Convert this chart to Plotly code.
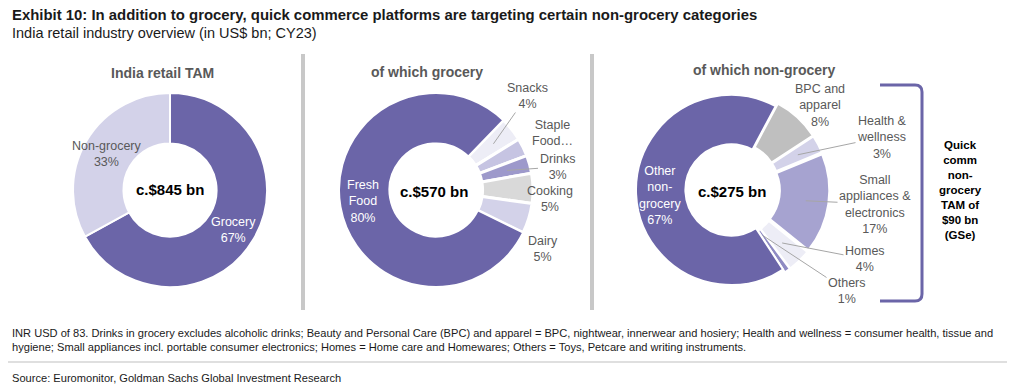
import math
import plotly.graph_objects as go

# page body has an 8px default margin -> lay everything out in page pixels and offset
OX, OY = 8, 8
W, H = 1007, 384

# ---------------- data ----------------
tam_labels = ["Grocery", "Non-grocery"]
tam_values = [67, 33]
tam_total = "c.$845 bn"

groc_labels = ["Snacks", "Staple Food", "Drinks", "Cooking", "Dairy", "Fresh Food"]
groc_values = [4, 3, 3, 5, 5, 80]
groc_total = "c.$570 bn"

nong_labels = ["BPC and apparel", "Health & wellness", "Small appliances & electronics",
               "Homes", "Others", "Other non-grocery"]
nong_values = [8, 3, 17, 4, 1, 67]
nong_total = "c.$275 bn"

# display text of the labels (line-wrapped as in the exhibit)
tam_display = ["Grocery", "Non-grocery"]
groc_display = ["Snacks", "Staple<br>Food…", "Drinks", "Cooking", "Dairy", "Fresh<br>Food"]
groc_show_pct = [True, False, True, True, True, True]
nong_display = ["BPC and<br>apparel", "Health &<br>wellness", "Small<br>appliances &<br>electronics",
                "Homes", "Others", "Other<br>non-<br>grocery"]

# ---------------- styles ----------------
PURPLE = "#6B65A8"
GRAY_TXT = "#595959"
tam_colors = [PURPLE, "#D3D2E9"]
groc_colors = ["#EDEDF6", "#C6C4E2", "#9D99CB", "#D9D9D9", "#D3D2E9", PURPLE]
nong_colors = ["#BFBFBF", "#D3D2E9", "#A6A3D0", "#EDEDF6", "#8F8BC3", PURPLE]

LABEL_FONT = "Liberation Sans, Arial, sans-serif"
NARROW_FONT = "Liberation Sans Narrow, Arial Narrow, Liberation Sans, Arial, sans-serif"

# pie geometry (page pixels)
P1 = dict(cx=170, cy=190, r=97, rot=0, pull=0.0)
P2 = dict(cx=436, cy=190, r=97, rot=44, pull=0.0)
P3 = dict(cx=731, cy=190, r=95, rot=28, pull=0.035)
HOLE = 0.48


def px(x):
    return (x - OX) / W


def py(y):
    return 1 - (y - OY) / H


def domain(p):
    R = p["r"] * (1 + p["pull"])
    return dict(x=[px(p["cx"] - R), px(p["cx"] + R)],
                y=[py(p["cy"] + R), py(p["cy"] - R)])


def mid_angles(values, rot):
    tot = sum(values)
    acc = rot
    out = []
    for v in values:
        a = v / tot * 360
        out.append(acc + a / 2)
        acc += a
    return out


def point_on(p, ang, frac, pulled):
    rr = p["r"] * frac + (p["r"] * p["pull"] if pulled else 0)
    t = math.radians(ang)
    return p["cx"] + rr * math.sin(t), p["cy"] - rr * math.cos(t)


fig = go.Figure()

fig.add_trace(go.Pie(
    labels=tam_labels, values=tam_values, hole=HOLE, sort=False,
    direction="clockwise", rotation=P1["rot"], domain=domain(P1),
    marker=dict(colors=tam_colors, line=dict(color="white", width=2)),
    textinfo="none", hoverinfo="label+percent", showlegend=False))

fig.add_trace(go.Pie(
    labels=groc_labels, values=groc_values, hole=HOLE, sort=False,
    direction="clockwise", rotation=P2["rot"], domain=domain(P2),
    marker=dict(colors=groc_colors, line=dict(color="white", width=[3, 3, 3, 3, 3, 2])),
    textinfo="none", hoverinfo="label+percent", showlegend=False))

nong_pull = [P3["pull"]] * 5 + [0]
fig.add_trace(go.Pie(
    labels=nong_labels, values=nong_values, hole=HOLE, sort=False,
    direction="clockwise", rotation=P3["rot"], domain=domain(P3),
    pull=nong_pull,
    marker=dict(colors=nong_colors, line=dict(color="white", width=2)),
    textinfo="none", hoverinfo="label+percent", showlegend=False))

ann = []


def text_ann(x, y, text, size=12.5, color=GRAY_TXT, bold=False, family=LABEL_FONT,
             xanchor="center", yanchor="middle", align="center"):
    if bold:
        text = "<b>" + text + "</b>"
    ann.append(dict(x=px(x), y=py(y), xref="paper", yref="paper", text=text,
                    showarrow=False, xanchor=xanchor, yanchor=yanchor, align=align,
                    font=dict(family=family, size=size, color=color)))


def leader_ann(p, ang, frac, pulled, tx, ty, text, size=12.5):
    hx, hy = point_on(p, ang, frac, pulled)
    ann.append(dict(x=px(hx), y=py(hy), xref="paper", yref="paper", text=text,
                    showarrow=True, arrowhead=0, arrowwidth=1, arrowcolor="#A6A6A6",
                    ax=tx - hx, ay=ty - hy, standoff=0, startstandoff=0,
                    align="center", font=dict(family=LABEL_FONT, size=size, color=GRAY_TXT)))


# ---- titles ----
text_ann(10, 15, "Exhibit 10: In addition to grocery, quick commerce platforms are targeting certain non-grocery categories",
         size=14.9, color="#1A1A1A", bold=True, family=NARROW_FONT, xanchor="left", align="left")
text_ann(10, 33, "India retail industry overview (in US$ bn; CY23)", size=14.5, color="#1A1A1A",
         family=NARROW_FONT, xanchor="left", align="left")

# subplot titles
text_ann(162, 73, "India retail TAM", size=14, bold=True)
text_ann(427, 72, "of which grocery", size=14, bold=True)
text_ann(764, 70, "of which non-grocery", size=14, bold=True)

# centre totals
text_ann(P1["cx"], P1["cy"], tam_total, size=15, color="black", bold=True)
text_ann(P2["cx"] - 2, P2["cy"] + 1, groc_total, size=15, color="black", bold=True)
text_ann(P3["cx"] + 1, P3["cy"] + 1, nong_total, size=15, color="black", bold=True)

# ---- donut 1 labels ----
tam_pos = [(233, 230, "white"), (107, 154, GRAY_TXT)]
for name, v, (x, y, c) in zip(tam_display, tam_values, tam_pos):
    text_ann(x, y, f"{name}<br>{v}%", color=c)

# ---- donut 2 labels ----
g_mid = mid_angles(groc_values, P2["rot"])
g_pos = [(527, 96, True), (552, 133, False), (557, 167, True), (550, 199, False),
         (543, 249, False), (363, 201, False)]
for i, (name, v, show, (x, y, lead)) in enumerate(zip(groc_display, groc_values, groc_show_pct, g_pos)):
    txt = f"{name}<br>{v}%" if show else name
    if lead:
        leader_ann(P2, g_mid[i], 0.76, False, x, y, txt)
    else:
        text_ann(x, y, txt, color="white" if i == 5 else GRAY_TXT)

# ---- donut 3 labels ----
n_mid = mid_angles(nong_values, P3["rot"])
n_pos = [(820, 105, False, 0), (882, 137, True, 0.76), (875, 204, True, 0.76),
         (865, 259, True, 0.74), (847, 291, True, 0.55), (660, 195, False, 0)]
for i, (name, v, (x, y, lead, frac)) in enumerate(zip(nong_display, nong_values, n_pos)):
    txt = f"{name}<br>{v}%"
    if lead:
        leader_ann(P3, n_mid[i], frac, True, x, y, txt)
    else:
        text_ann(x, y, txt, color="white" if i == 5 else GRAY_TXT)

# bracket text
text_ann(960, 190, "Quick<br>comm<br>non-<br>grocery<br>TAM of<br>$90 bn<br>(GSe)", size=11.5,
         color="black", bold=True)

# footnotes
FOOT = 11.1
text_ann(10, 333, "INR USD of 83. Drinks in grocery excludes alcoholic drinks; Beauty and Personal Care (BPC) and apparel = BPC, nightwear, innerwear and hosiery; Health and wellness = consumer health, tissue and",
         size=FOOT, color="#1A1A1A", family=NARROW_FONT, xanchor="left", align="left")
text_ann(10, 347, "hygiene; Small appliances incl. portable consumer electronics; Homes = Home care and Homewares; Others = Toys, Petcare and writing instruments.",
         size=FOOT, color="#1A1A1A", family=NARROW_FONT, xanchor="left", align="left")
text_ann(10, 378, "Source: Euromonitor, Goldman Sachs Global Investment Research",
         size=FOOT, color="#1A1A1A", family=NARROW_FONT, xanchor="left", align="left")

# ---- shapes ----
shapes = []
for sx in (303, 592):
    shapes.append(dict(type="line", xref="paper", yref="paper", x0=px(sx), x1=px(sx),
                       y0=py(54), y1=py(310), line=dict(color="#C8C8C8", width=4)))
shapes.append(dict(type="line", xref="paper", yref="paper", x0=px(8), x1=px(1010),
                   y0=py(362), y1=py(362), line=dict(color="#BFBFBF", width=1)))

# bracket (rounded)
bx0, bx1, by0, by1, rc = 880, 922, 85, 301, 7
path = (f"M {px(bx0)} {py(by0)} L {px(bx1 - rc)} {py(by0)} Q {px(bx1)} {py(by0)} {px(bx1)} {py(by0 + rc)} "
        f"L {px(bx1)} {py(by1 - rc)} Q {px(bx1)} {py(by1)} {px(bx1 - rc)} {py(by1)} L {px(bx0)} {py(by1)}")
shapes.append(dict(type="path", xref="paper", yref="paper", path=path,
                   line=dict(color=PURPLE, width=3)))

fig.update_layout(
    width=W, height=H, margin=dict(l=0, r=0, t=0, b=0),
    paper_bgcolor="white", plot_bgcolor="white",
    annotations=ann, shapes=shapes,
)

fig.write_html("out.html")
